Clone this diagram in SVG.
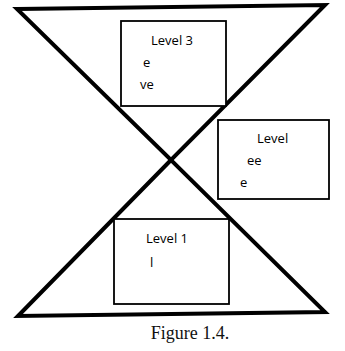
<svg xmlns="http://www.w3.org/2000/svg" width="345" height="351" viewBox="0 0 345 351">
<style>
.tri{fill:none;stroke:#000;stroke-width:4;stroke-linejoin:miter}
.box{fill:#fff;stroke:#000;stroke-width:1.8}
.t{font-family:"Open Sans","Liberation Sans",Arial,sans-serif;font-size:13px;fill:#000}
.cap{font-family:"Liberation Serif","Times New Roman",serif;font-size:18px;fill:#111}
</style>
<g id="connectors">
<polygon class="tri" points="17,9 325,5 171,160"/>
<polygon class="tri" points="171,160 18,316 325,312"/>
</g>
<g id="level3">
<rect class="box" x="121" y="21" width="105" height="85"/>
<text class="t" x="151" y="45">Level 3</text>
<text class="t" x="143" y="67">e</text>
<text class="t" x="140" y="89">ve</text>
</g>
<g id="level2">
<rect class="box" x="218" y="120" width="111" height="79"/>
<text class="t" x="257" y="143">Level</text>
<text class="t" x="247" y="165">ee</text>
<text class="t" x="240" y="187">e</text>
</g>
<g id="level1">
<rect class="box" x="114" y="219" width="115" height="85"/>
<text class="t" x="146" y="243">Level 1</text>
<text class="t" x="150" y="267">l</text>
</g>
<text class="cap" x="190" y="339" text-anchor="middle">Figure 1.4.</text>
</svg>
